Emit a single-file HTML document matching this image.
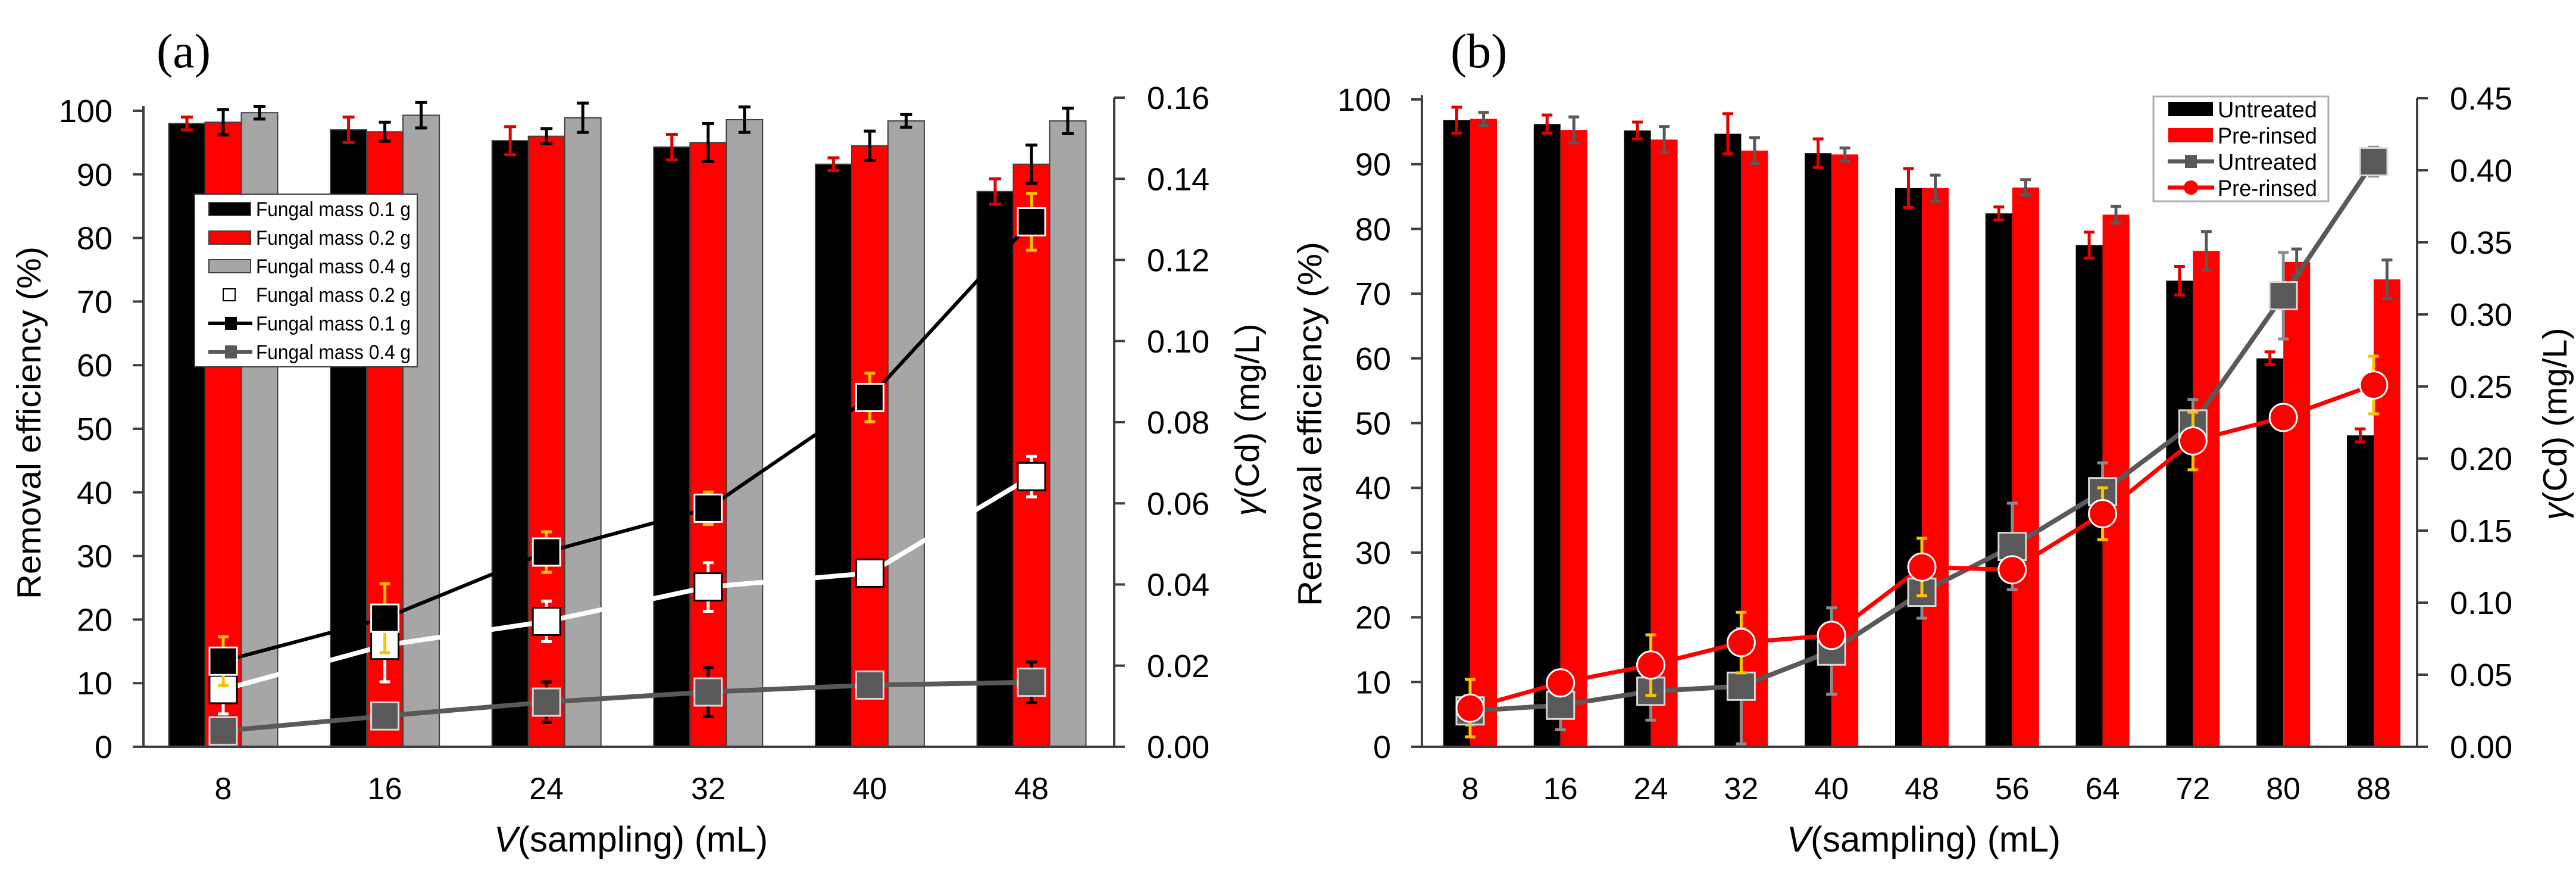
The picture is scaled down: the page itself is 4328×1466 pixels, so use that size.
<!DOCTYPE html>
<html><head><meta charset="utf-8"><style>
html,body{margin:0;padding:0;background:#fff}
svg{display:block}
text{font-family:"Liberation Sans",sans-serif;fill:#000}
text.serif{font-family:"Liberation Serif",serif}
</style></head><body>
<svg id="fig" width="4328" height="1466" viewBox="0 0 4328 1466" xmlns="http://www.w3.org/2000/svg">
<rect width="4328" height="1466" fill="#fff"/>
<g id="pa"></g>
<g id="pb"></g>
</svg>
<script>
// ---------- Panel (a) data ----------
const catsA = [8,16,24,32,40,48];
const barBlackA = [98,97,95.3,94.3,91.6,87.3];
const barBlackErrA = [1,2,2.2,2,1,2];
const barRedA = [98.2,96.7,96,95,94.5,91.6];
const barRedErrA = [2,1.5,1.2,3,2.3,3];
const barGrayA = [99.7,99.3,98.9,98.6,98.4,98.4];
const barGrayErrA = [1,2,2.3,2,1,2];
const lineBlackA = [0.0211,0.0317,0.048,0.0588,0.0861,0.1294];
const lineBlackErrA = [0.006,0.0085,0.005,0.004,0.006,0.007];
const lineWhiteA = [0.0141,0.025,0.0309,0.0394,0.0428,0.0666];
const lineWhiteErrA = [0.006,0.009,0.005,0.006,0,0.005];
const lineGrayA = [0.0039,0.0076,0.011,0.0135,0.0152,0.0159];
const lineGrayErrA = [0.002,0.003,0.005,0.006,0,0.005];
const leftTicksA = [0,10,20,30,40,50,60,70,80,90,100];
const rightTicksA = ["0.00","0.02","0.04","0.06","0.08","0.10","0.12","0.14","0.16"];
// ---------- Panel (b) data ----------
const catsB = [8,16,24,32,40,48,56,64,72,80,88];
const barBlackB = [96.8,96.2,95.2,94.7,91.7,86.3,82.4,77.5,72,60,48.1];
const barBlackErrB = [2,1.4,1.3,3.1,2.2,3,1,2,2.2,1,1];
const barRedB = [97,95.3,93.8,92.1,91.5,86.3,86.4,82.2,76.6,74.9,72.2];
const barRedErrB = [1,2,2,2,1,2,1.2,1.3,3,2,3];
const lineGrayB = [0.0249,0.0288,0.0385,0.042,0.0664,0.1072,0.139,0.177,0.224,0.313,0.406];
const lineGrayErrB = [0.01,0.017,0.02,0.04,0.03,0.018,0.03,0.02,0.017,0.03,0.01];
const lineRedB = [0.0268,0.0443,0.0567,0.0723,0.0773,0.1247,0.1228,0.1617,0.2122,0.2285,0.251];
const lineRedErrB = [0.02,0.005,0.021,0.021,0.003,0.02,0.004,0.018,0.02,0.004,0.02];
const leftTicksB = [0,10,20,30,40,50,60,70,80,90,100];
const rightTicksB = ["0.00","0.05","0.10","0.15","0.20","0.25","0.30","0.35","0.40","0.45"];

const NS="http://www.w3.org/2000/svg";
function mk(parent,tag,attrs,txt){const e=document.createElementNS(NS,tag);for(const k in attrs)e.setAttribute(k,attrs[k]);if(txt!==undefined)e.textContent=txt;parent.appendChild(e);return e;}

function errBar(g,x,y1,y2,col,w){
  const e=mk(g,'path',{d:`M${x},${y1}V${y2}M${x-w},${y1}H${x+w}M${x-w},${y2}H${x+w}`,stroke:col,'stroke-width':5,fill:'none'});
  
  
}

function axes(g,P,leftTicks,rightTicks){
  const ax=mk(g,'path',{d:`M${P.xl},${P.top}V${P.y0}M${P.xl-18},${P.y0}H${P.xr}M${P.xr},${P.y0}V${P.rtop}`,stroke:'#404040','stroke-width':4,fill:'none'});
  
  
  leftTicks.forEach(v=>{const y=P.yL(v);
    mk(g,'line',{x1:P.xl-18,x2:P.xl,y1:y,y2:y,stroke:'#404040','stroke-width':4});
    const t=mk(g,'text',{x:P.xl-52,y:y+19,'font-size':54,'text-anchor':'end'},String(v));
    
    
  });
  rightTicks.forEach(s=>{const y=P.yR(parseFloat(s));
    mk(g,'line',{x1:P.xr,x2:P.xr+18,y1:y,y2:y,stroke:'#404040','stroke-width':4});
    const t=mk(g,'text',{x:P.xr+55,y:y+19,'font-size':54},s);
    
    
  });
}

function drawLine(g,P,vals,col,w,name){
  const d=vals.map((v,i)=>(i?'L':'M')+P.x(i)+','+P.yR(v)).join('');
  const p=mk(g,'path',{d:d,stroke:col,'stroke-width':w,fill:'none','stroke-linejoin':'round'});
  
  
}

// ---------- Panel A ----------
(function(){
  const g=document.getElementById('pa');
  const P={xl:241,xr:1872,y0:1254,top:178,rtop:164};
  P.yL=v=>P.y0-v*10.68;
  P.yR=v=>P.y0-v*(1254-164)/0.16;
  P.x=i=>375+i*271.6;
  const bw=61;
  catsA.forEach((c,i)=>{
    const cx=P.x(i);
    [[barBlackA,barBlackErrA,'#000','#e00000',-1.5],[barRedA,barRedErrA,'#ff0000','#000',-0.5],[barGrayA,barGrayErrA,'#a6a6a6','#000',0.5]].forEach(s=>{
      const x=cx+s[4]*bw, y=P.yL(s[0][i]);
      const r=mk(g,'rect',{x:x,y:y,width:bw,height:P.y0-y,fill:s[2],stroke:'#404040','stroke-width':2});
      
      
      errBar(g,x+bw/2,P.yL(s[0][i]+s[1][i]),P.yL(s[0][i]-s[1][i]),s[3],10);
    });
    const t=mk(g,'text',{x:cx,y:1342,'font-size':52,'text-anchor':'middle'},String(c));
    
    
  });
  axes(g,P,leftTicksA,rightTicksA);
  drawLine(g,P,lineBlackA,'#000',6,'line-0.1g');
  drawLine(g,P,lineWhiteA,'#fff',8,'line-0.2g');
  drawLine(g,P,lineGrayA,'#595959',8,'line-0.4g');
  const ms=[[lineGrayA,lineGrayErrA,'#595959','#d9d9d9','#000'],[lineWhiteA,lineWhiteErrA,'#fff','#000','#fff'],[lineBlackA,lineBlackErrA,'#000','#fff','#ffc000']];
  ms.forEach(s=>{
    s[0].forEach((v,i)=>{
      const x=P.x(i),y=P.yR(v);
      if(s[1][i]>0) errBar(g,x,P.yR(v+s[1][i]),P.yR(v-s[1][i]),s[4],9);
      const r=mk(g,'rect',{x:x-23,y:y-23,width:46,height:46,fill:s[2],stroke:s[3],'stroke-width':3});
      
      
    });
  });
  const lg=mk(g,'g',{});
  
  
  mk(lg,'rect',{x:327,y:326,width:374,height:290,fill:'#fff',stroke:'#404040','stroke-width':2});
  const labs=['Fungal mass 0.1 g','Fungal mass 0.2 g','Fungal mass 0.4 g','Fungal mass 0.2 g','Fungal mass 0.1 g','Fungal mass 0.4 g'];
  labs.forEach((l,k)=>{
    const y=351+k*48;
    if(k<3){mk(lg,'rect',{x:351,y:y-11,width:70,height:22,fill:['#000','#ff0000','#a6a6a6'][k],stroke:'#404040','stroke-width':2});}
    else if(k===3){mk(lg,'rect',{x:375,y:y-10,width:20,height:20,fill:'#fff',stroke:'#000','stroke-width':2});}
    else{const c=k===4?'#000':'#595959';mk(lg,'line',{x1:350,x2:424,y1:y,y2:y,stroke:c,'stroke-width':6});mk(lg,'rect',{x:378,y:y-11,width:20,height:22,fill:c});}
    const t=mk(lg,'text',{x:430,y:y+12,'font-size':34,textLength:260,lengthAdjust:'spacingAndGlyphs'},l);
    
    
  });
  const ta=mk(g,'text',{x:263,y:113,'font-size':82,'class':'serif'},'(a)');
  
  const yt=mk(g,'text',{transform:'translate(68,710) rotate(-90)','font-size':57,'text-anchor':'middle',textLength:592,lengthAdjust:'spacingAndGlyphs'},'Removal efficiency (%)');
  
  const rt=mk(g,'text',{transform:'translate(2115,705) rotate(-90)','font-size':57,'text-anchor':'middle',textLength:323,lengthAdjust:'spacingAndGlyphs'});
  
  mk(rt,'tspan',{'font-style':'italic'},'γ');mk(rt,'tspan',{},'(Cd) (mg/L)');
  const xt=mk(g,'text',{x:1060,y:1430,'font-size':60,'text-anchor':'middle'});
  
  mk(xt,'tspan',{'font-style':'italic'},'V');mk(xt,'tspan',{},'(sampling) (mL)');
})();

// ---------- Panel B ----------
(function(){
  const g=document.getElementById('pb');
  const P={xl:2389,xr:4061,y0:1254,top:160,rtop:165};
  P.yL=v=>P.y0-v*10.87;
  P.yR=v=>P.y0-v*(1254-165)/0.45;
  P.x=i=>2470+i*151.8;
  const bw=45;
  catsB.forEach((c,i)=>{
    const cx=P.x(i);
    [[barBlackB,barBlackErrB,'#000','#e00000',-1],[barRedB,barRedErrB,'#ff0000','#595959',0]].forEach(s=>{
      const x=cx+s[4]*bw,y=P.yL(s[0][i]);
      const r=mk(g,'rect',{x:x,y:y,width:bw,height:P.y0-y,fill:s[2]});
      
      
      errBar(g,x+bw/2,P.yL(s[0][i]+s[1][i]),P.yL(s[0][i]-s[1][i]),s[3],9);
    });
    const t=mk(g,'text',{x:cx,y:1342,'font-size':52,'text-anchor':'middle'},String(c));
    
    
  });
  axes(g,P,leftTicksB,rightTicksB);
  drawLine(g,P,lineGrayB,'#595959',8,'line-untreated');
  drawLine(g,P,lineRedB,'#ff0000',7,'line-pre-rinsed');
  lineGrayB.forEach((v,i)=>{const x=P.x(i),y=P.yR(v);
    errBar(g,x,P.yR(v+lineGrayErrB[i]),P.yR(v-lineGrayErrB[i]),'#8c8c8c',9);
    const r=mk(g,'rect',{x:x-23,y:y-23,width:46,height:46,fill:'#595959',stroke:'#d9d9d9','stroke-width':3});
    
    
  });
  lineRedB.forEach((v,i)=>{const x=P.x(i),y=P.yR(v);
    errBar(g,x,P.yR(v+lineRedErrB[i]),P.yR(v-lineRedErrB[i]),'#ffc000',9);
    const c=mk(g,'circle',{cx:x,cy:y,r:23,fill:'#ff0000',stroke:'#fff','stroke-width':3});
    
    
  });
  const lg=mk(g,'g',{});
  
  
  mk(lg,'rect',{x:3618,y:162,width:294,height:176,fill:'#fff',stroke:'#b0b0b0','stroke-width':3});
  ['Untreated','Pre-rinsed','Untreated','Pre-rinsed'].forEach((l,k)=>{
    const y=183+k*44;
    if(k<2){mk(lg,'rect',{x:3643,y:y-12,width:75,height:24,fill:k?'#ff0000':'#000'});}
    else if(k===2){mk(lg,'line',{x1:3642,x2:3720,y1:y,y2:y,stroke:'#595959','stroke-width':7});mk(lg,'rect',{x:3671,y:y-11,width:20,height:22,fill:'#595959'});}
    else{mk(lg,'line',{x1:3642,x2:3720,y1:y,y2:y,stroke:'#ff0000','stroke-width':7});mk(lg,'circle',{cx:3681,cy:y,r:12,fill:'#ff0000'});}
    const t=mk(lg,'text',{x:3726,y:y+14,'font-size':38,textLength:167,lengthAdjust:'spacingAndGlyphs'},l);
    
    
  });
  const tb=mk(g,'text',{x:2437,y:113,'font-size':82,'class':'serif'},'(b)');
  
  const yt=mk(g,'text',{transform:'translate(2220,712) rotate(-90)','font-size':57,'text-anchor':'middle',textLength:612,lengthAdjust:'spacingAndGlyphs'},'Removal efficiency (%)');
  
  const rt=mk(g,'text',{transform:'translate(4312,712) rotate(-90)','font-size':57,'text-anchor':'middle',textLength:323,lengthAdjust:'spacingAndGlyphs'});
  
  mk(rt,'tspan',{'font-style':'italic'},'γ');mk(rt,'tspan',{},'(Cd) (mg/L)');
  const xt=mk(g,'text',{x:3232,y:1430,'font-size':60,'text-anchor':'middle'});
  
  mk(xt,'tspan',{'font-style':'italic'},'V');mk(xt,'tspan',{},'(sampling) (mL)');
})();
</script>
</body></html>
